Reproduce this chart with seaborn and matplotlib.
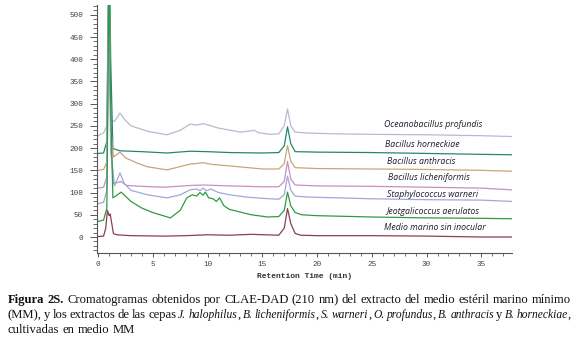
import matplotlib
matplotlib.use("Agg")
import matplotlib.pyplot as plt
import seaborn as sns
import pandas as pd
from matplotlib.ticker import MultipleLocator

# ---------------- data ----------------
series_names = ["Oceanobacillus profundis", "Bacillus horneckiae", "Bacillus anthracis",
                "Bacillus licheniformis", "Staphylococcus warneri",
                "Jeotgalicoccus aerulatos", "Medio marino sin inocular"]

ocean_t = [0, 0.5, 0.8, 0.95, 1.05, 1.2, 1.5, 2.0, 2.4, 3, 4.5, 6.3, 7.5, 8.4, 9.0, 9.6, 11, 13, 14.3, 14.6,
           15.7, 16.5, 17.0, 17.3, 17.6, 18.0, 19, 22, 25, 30, 35, 37.8]
ocean_v = [228, 234, 250, 600, 350, 262, 260, 279, 265, 250, 238, 230, 240, 254, 252, 255, 245, 236, 240, 235,
           231, 232, 250, 288, 250, 236, 234, 232, 231, 230, 228, 226]

horn_t = [0, 0.5, 0.8, 1.0, 1.15, 1.35, 2, 4, 6.3, 8.4, 10, 12, 15, 16.5, 17.0, 17.3, 17.6, 18.0, 20, 25,
          30, 35, 37.8]
horn_v = [188, 189, 215, 700, 400, 199, 194, 192, 189, 193, 192, 190, 189, 190, 205, 248, 210, 192, 191, 190,
          188, 186, 185]

anth_t = [0, 0.5, 0.8, 1.0, 1.15, 1.4, 2.0, 2.5, 3.6, 4.5, 6.3, 8.4, 9.6, 10.5, 12, 15, 16.5, 17.0, 17.3,
          17.6, 18.0, 20, 25, 30, 35, 37.8]
anth_v = [150, 152, 168, 600, 250, 180, 191, 178, 166, 158, 151, 164, 167, 163, 160, 153, 153, 165, 206,
          170, 156, 154, 153, 152, 150, 148]

lich_t = [0, 0.5, 0.8, 1.0, 1.15, 1.4, 2.1, 2.6, 4, 6, 8.5, 9.6, 12, 15, 16.5, 17.0, 17.3, 17.6, 18.0, 20,
          25, 30, 35, 37.8]
lich_v = [110, 112, 135, 600, 200, 120, 125, 116, 114, 112, 116, 117, 115, 113, 113, 125, 170, 130, 117, 115,
          114, 112, 110, 106]

staph_t = [0, 0.5, 0.8, 1.0, 1.15, 1.5, 2.0, 2.4, 3, 4.5, 6.3, 7.5, 8.4, 9.0, 9.3, 9.6, 9.9, 10.3, 11, 12,
           13.5, 15, 16.5, 17.0, 17.3, 17.6, 18.0, 19, 22, 25, 30, 35, 37.8]
staph_v = [75, 78, 105, 600, 200, 115, 144, 120, 105, 95, 88, 95, 106, 108, 104, 110, 104, 108, 100, 95,
           90, 87, 85, 95, 137, 105, 92, 90, 88, 86, 84, 83, 80]

jeot_t = [0, 0.5, 0.8, 1.0, 1.15, 1.35, 1.6, 2.1, 3, 4, 5, 6.6, 7.5, 8.1, 8.6, 9.0, 9.3, 9.6, 9.8, 10.1,
          10.5, 10.8, 11.1, 11.5, 12, 13, 14, 15.5, 16.5, 17.0, 17.3, 17.6, 18.0, 18.6, 20, 25, 30, 35, 37.8]
jeot_v = [35, 38, 65, 600, 300, 88, 92, 101, 80, 65, 55, 43, 60, 88, 95, 92, 100, 94, 101, 88,
          86, 80, 88, 70, 62, 56, 50, 45, 46, 60, 101, 70, 55, 50, 48, 45, 43, 42, 41]

medio_t = [0, 0.5, 0.7, 0.85, 1.0, 1.1, 1.25, 1.4, 1.7, 3, 6, 8, 10, 12, 14, 16.5, 17.0, 17.3, 17.6, 18.0,
           18.5, 20, 25, 30, 35, 37.8]
medio_v = [1, 2, 20, 60, 48, 52, 30, 8, 5, 3, 2, 3, 5, 4, 6, 4, 20, 64, 30, 8,
           4, 3, 3, 2, 0, 0]

series_t = [ocean_t, horn_t, anth_t, lich_t, staph_t, jeot_t, medio_t]
series_v = [ocean_v, horn_v, anth_v, lich_v, staph_v, jeot_v, medio_v]

label_pos_t = [26.1, 26.2, 26.4, 26.5, 26.4, 26.3, 26.1]
label_pos_v = [254, 209, 169, 133, 96, 58, 22]

y_ticks = [0, 50, 100, 150, 200, 250, 300, 350, 400, 450, 500]
x_ticks = [0, 5, 10, 15, 20, 25, 30, 35]

colors = ["#b9b9d2", "#23876f", "#c9a57a", "#c690c6", "#9fa9d4", "#2f9a45", "#8a3e52"]

rows = []
for name, ts, vs in zip(series_names, series_t, series_v):
    for t, v in zip(ts, vs):
        rows.append({"series": name, "time": t, "value": v})
df = pd.DataFrame(rows)

# ---------------- figure ----------------
sns.set_theme(style="white")
W, H = 580, 338
fig = plt.figure(figsize=(W / 100, H / 100), dpi=100)
fig.patch.set_facecolor("white")

ax = fig.add_axes([97 / W, 1 - 253 / H, (512 - 97) / W, (253 - 5) / H])
ax.set_facecolor("white")
sns.lineplot(data=df, x="time", y="value", hue="series", hue_order=series_names,
             palette=dict(zip(series_names, colors)), sort=False, estimator=None,
             linewidth=0.9, legend=False, ax=ax)

ax.set_xlim(-0.1, 37.8)
ax.set_ylim(-36, 522)
for s in ["top", "right"]:
    ax.spines[s].set_visible(False)
for s in ["left", "bottom"]:
    ax.spines[s].set_color("#555555")
    ax.spines[s].set_linewidth(0.8)

ax.set_yticks(y_ticks)
ax.set_yticklabels([str(v) for v in y_ticks])
ax.set_xticks(x_ticks)
ax.set_xticklabels([str(v) for v in x_ticks])
ax.yaxis.set_minor_locator(MultipleLocator(10))
ax.xaxis.set_minor_locator(MultipleLocator(1))
ax.tick_params(axis="y", which="major", length=5, width=0.7, color="#555555", pad=5,
               labelsize=5.5, labelcolor="#444444", left=True)
ax.tick_params(axis="y", which="minor", length=3, width=0.6, color="#555555", left=True)
ax.tick_params(axis="x", which="major", length=3, width=0.7, color="#555555", pad=3,
               labelsize=5.5, labelcolor="#444444", bottom=True)
ax.tick_params(axis="x", which="minor", length=1.8, width=0.6, color="#555555", bottom=True)
for lab in ax.get_xticklabels() + ax.get_yticklabels():
    lab.set_family("Liberation Mono")
ax.set_xlabel("Retention Time (min)", family="Liberation Mono", fontsize=5.8,
              fontweight="bold", color="#333333", labelpad=3)
ax.set_ylabel("")

for name, t, v in zip(series_names, label_pos_t, label_pos_v):
    ax.text(t, v, name, fontsize=6.3, style="italic", family="Open Sans",
            color="#1f1f2e", va="center", ha="left")

# ---------------- caption ----------------
fig.canvas.draw()
renderer = fig.canvas.get_renderer()
CAP_FS = 9.1
CAP_FS_I = 8.3
CAP_FAMILY = "Liberation Serif"


def tokens_from(parts):
    toks = []
    for text, style in parts:
        words = text.split(" ")
        for i, w in enumerate(words):
            if w == "":
                if toks:
                    toks[-1][2] = True
                continue
            toks.append([w, style, i < len(words) - 1])
    return toks


def make_text(x, y, s, style):
    kw = dict(fontsize=CAP_FS, family=CAP_FAMILY, color="#111111", va="baseline", ha="left")
    if style == "b":
        kw["fontweight"] = "bold"
    elif style == "i":
        kw["style"] = "italic"
        kw["fontsize"] = CAP_FS_I
    return fig.text(x / W, 1 - y / H, s, **kw)


def width_of(s, style):
    t = make_text(0, 100, s, style)
    w = t.get_window_extent(renderer).width
    t.remove()
    return w


space_w = width_of("a a", "n") - width_of("aa", "n")


def draw_line(parts, x0, y, x1=None):
    toks = tokens_from(parts)
    widths = [width_of(w, st) for w, st, _ in toks]
    n_sp = sum(1 for tk in toks[:-1] if tk[2])
    total = sum(widths) + n_sp * space_w
    gap = space_w
    if x1 is not None and n_sp > 0:
        gap = space_w + (x1 - x0 - total) / n_sp
    x = x0
    for (w, st, sp), wd in zip(toks, widths):
        make_text(x, y, w, st)
        x += wd + (gap if sp else 0)


draw_line([("Figura 2S.", "b"),
           (" Cromatogramas obtenidos por CLAE-DAD (210 nm) del extracto del medio estéril marino mínimo", "n")],
          8, 303, 571)
draw_line([("(MM), y los extractos de las cepas ", "n"), ("J. halophilus", "i"), (", ", "n"),
           ("B. licheniformis", "i"), (", ", "n"), ("S. warneri", "i"), (", ", "n"),
           ("O. profundus", "i"), (", ", "n"), ("B. anthracis", "i"), (" y ", "n"),
           ("B. horneckiae", "i"), (",", "n")],
          8, 318, 571)
draw_line([("cultivadas en medio MM", "n")], 8, 333)

fig.savefig("out.png", dpi=100, facecolor="white")
